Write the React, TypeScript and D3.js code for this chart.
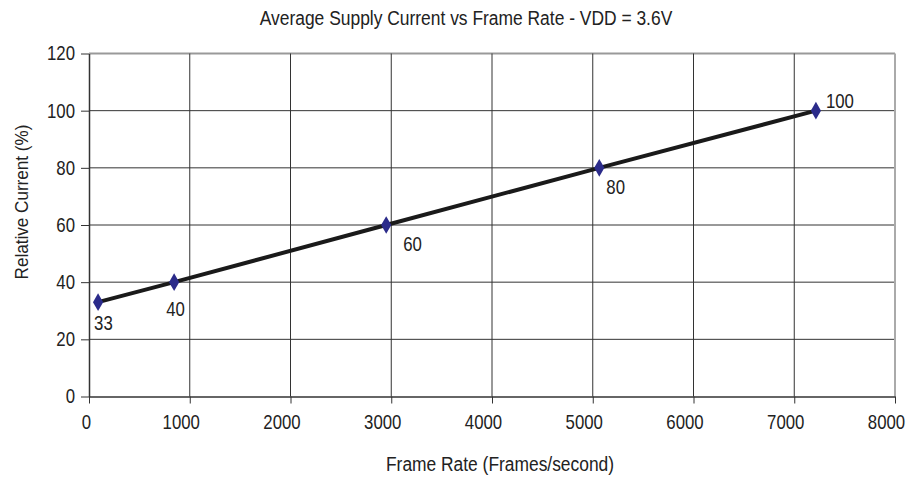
import React, { useRef, useEffect } from 'react';
import * as d3 from 'd3';

// Frame rate (frames/second) and relative current (%)
const frameRates = [90, 845, 2950, 5065, 7215];
const currents = [33, 40, 60, 80, 100];
const pointLabels = ['33', '40', '60', '80', '100'];
const xTicks = [0, 1000, 2000, 3000, 4000, 5000, 6000, 7000, 8000];
const yTicks = [0, 20, 40, 60, 80, 100, 120];

const title = 'Average Supply Current vs Frame Rate - VDD = 3.6V';
const xLabel = 'Frame Rate (Frames/second)';
const yLabel = 'Relative Current (%)';

// no narrow font installed, so squeeze Liberation Sans horizontally
const FONT = '"Liberation Sans", Arial, sans-serif';
const SQ = 0.84;

const App: React.FC = () => {
  const ref = useRef<SVGSVGElement | null>(null);

  useEffect(() => {
    if (!ref.current) return;
    const width = 909;
    const height = 483;
    const margin = { top: 53.5, right: 14, bottom: 86.5, left: 89 };
    const w = width - margin.left - margin.right;
    const h = height - margin.top - margin.bottom;

    const svg = d3.select(ref.current);
    svg.selectAll('*').remove();

    const x = d3.scaleLinear().domain([0, 8000]).range([0, w]);
    const y = d3.scaleLinear().domain([0, 120]).range([h, 0]);

    svg.append('text')
      .attr('transform', `translate(466,25) scale(0.83,1)`)
      .attr('text-anchor', 'middle')
      .style('font-family', FONT)
      .style('font-size', '21px')
      .attr('fill', '#222')
      .text(title);

    const g = svg.append('g').attr('transform', `translate(${margin.left},${margin.top})`);

    // grid
    g.selectAll('line.hgrid')
      .data(yTicks.filter((t) => t > 0))
      .enter()
      .append('line')
      .attr('class', 'hgrid')
      .attr('x1', 0)
      .attr('x2', w)
      .attr('y1', (d) => y(d))
      .attr('y2', (d) => y(d))
      .attr('stroke', (d) => (d === 120 ? '#999' : '#333'))
      .attr('stroke-width', (d) => (d === 120 ? 2 : 1));

    g.selectAll('line.vgrid')
      .data(xTicks.filter((t) => t > 0))
      .enter()
      .append('line')
      .attr('class', 'vgrid')
      .attr('y1', 0)
      .attr('y2', h)
      .attr('x1', (d) => x(d))
      .attr('x2', (d) => x(d))
      .attr('stroke', (d) => (d === 8000 ? '#aaa' : '#333'))
      .attr('stroke-width', (d) => (d === 8000 ? 2 : 1));

    // axes
    const fmt = d3.format('d');
    const xAxis = g.append('g')
      .attr('transform', `translate(0,${h})`)
      .call(d3.axisBottom(x).tickValues(xTicks).tickFormat(fmt).tickSize(7).tickSizeOuter(0).tickPadding(11));
    const yAxis = g.append('g')
      .call(d3.axisLeft(y).tickValues(yTicks).tickFormat(fmt).tickSize(8).tickSizeOuter(0).tickPadding(6));

    [xAxis, yAxis].forEach((ax) => {
      ax.select('.domain').attr('stroke', '#333').attr('stroke-width', 1.5);
      ax.selectAll('.tick line').attr('stroke', '#333');
      ax.selectAll('.tick text')
        .style('font-family', FONT)
        .style('font-size', '20px')
        .attr('fill', '#222')
        .attr('transform', `scale(${SQ},1)`);
    });
    // labels sit a little left of their ticks in the original
    xAxis.selectAll<SVGTextElement, number>('.tick text').attr('x', (d) => (d === 0 ? -3 : -9) / SQ);
    yAxis.selectAll('.tick text').attr('x', -14 / SQ);

    // line
    const pts = frameRates.map((f, i) => [f, currents[i]] as [number, number]);
    const line = d3.line<[number, number]>().x((d) => x(d[0])).y((d) => y(d[1]));
    g.append('path')
      .datum(pts)
      .attr('d', line)
      .attr('fill', 'none')
      .attr('stroke', '#1a1a1a')
      .attr('stroke-width', 4);

    // markers
    g.selectAll('path.marker')
      .data(pts)
      .enter()
      .append('path')
      .attr('class', 'marker')
      .attr('d', d3.symbol().type(d3.symbolDiamond).size(90))
      .attr('transform', (d) => `translate(${x(d[0])},${y(d[1])})`)
      .attr('fill', '#2b2b8a');

    // labels
    const offsets: [number, number][] = [[-4, 28], [-8, 34], [17, 26], [7, 26], [10, -3]];
    g.selectAll('text.plabel')
      .data(pts)
      .enter()
      .append('text')
      .attr('class', 'plabel')
      .attr('transform', (d, i) => `translate(${x(d[0]) + offsets[i][0]},${y(d[1]) + offsets[i][1]}) scale(${SQ},1)`)
      .style('font-family', FONT)
      .style('font-size', '20px')
      .attr('fill', '#222')
      .text((d, i) => pointLabels[i]);

    // axis titles
    svg.append('text')
      .attr('transform', `translate(500,471) scale(0.87,1)`)
      .attr('text-anchor', 'middle')
      .style('font-family', FONT)
      .style('font-size', '20px')
      .attr('fill', '#222')
      .text(xLabel);

    svg.append('text')
      .attr('transform', `translate(28,202) rotate(-90) scale(0.9,1)`)
      .attr('text-anchor', 'middle')
      .style('font-family', FONT)
      .style('font-size', '19px')
      .attr('fill', '#222')
      .text(yLabel);
  }, []);

  return (
    <svg ref={ref} width={909} height={483} style={{ position: 'absolute', left: 0, top: 0, background: '#fff' }} />
  );
};

export default App;
